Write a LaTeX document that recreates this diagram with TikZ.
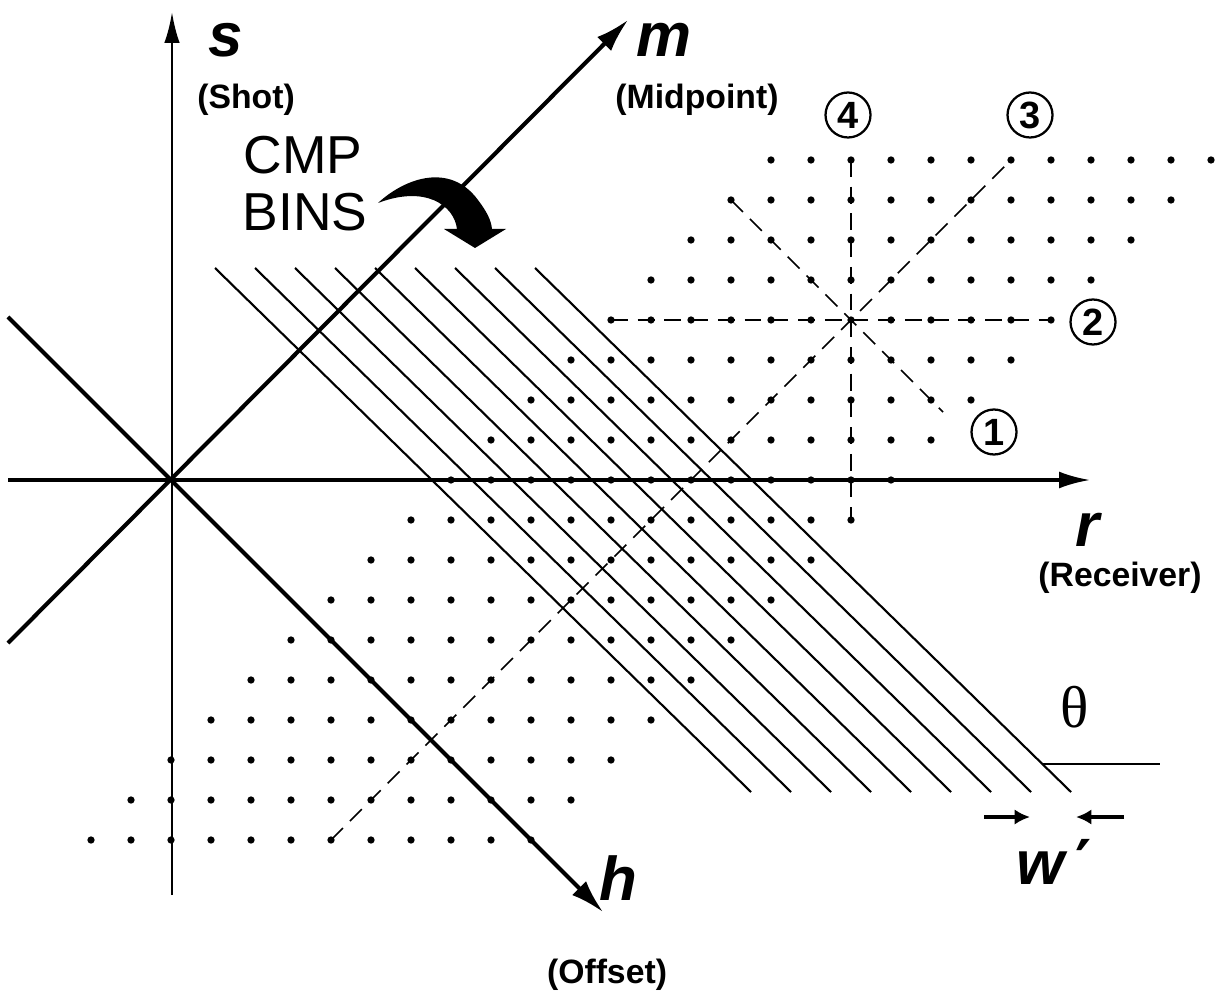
\documentclass[tikz,border=0pt]{standalone}
\usepackage{fontspec}
\setmainfont{Liberation Sans}
\newfontfamily\seriffont{Liberation Serif}
\newfontfamily\dvfont{DejaVu Sans}
\usetikzlibrary{arrows.meta}
\begin{document}
\begin{tikzpicture}[x=0.0125cm,y=-0.0125cm,
  axis/.style={line width=1.1pt},
  thickaxis/.style={line width=1.45pt},
  tipbig/.style={-{Latex[length=12pt,width=7pt]}},
  binline/.style={line width=0.75pt},
  dashline/.style={line width=0.6pt,dash pattern=on 6pt off 3.5pt},
  dot/.style={fill=black},
  lab/.style={inner sep=0pt,font=\fontsize{22}{24}\selectfont\bfseries\itshape},
  paren/.style={inner sep=0pt,font=\fontsize{12}{14}\selectfont\bfseries},
  cmp/.style={inner sep=0pt,font=\fontsize{19}{21}\selectfont},
  circnum/.style={circle,draw,line width=0.8pt,minimum size=16pt,inner sep=0pt,font=\fontsize{13.5}{14}\selectfont\bfseries},
  warrow/.style={line width=1.3pt,-{Latex[length=5.5pt,width=5.5pt]}}
]
\useasboundingbox (0,0) rectangle (1218,998);

% grid of dots
\foreach \j in {-9,...,8}{
  \foreach \k in {0,...,11}{
    \fill[dot] ({171+40*(7+\j+\k)},{480-40*\j}) circle (1.3pt);
  }
}

% CMP bins
\foreach \k in {0,...,8}{
  \coordinate (bt\k) at ({215+40*\k},268);
  \coordinate (bb\k) at ({751+40*\k},792);
  \draw[binline] (bt\k) -- (bb\k);
}
% theta reference line
\coordinate (th1) at (1043,764);
\coordinate (th2) at (1160,764);
\draw[binline] (th1) -- (th2);

% dashed lines through the star
\coordinate (d3a) at (331,840);
\coordinate (d3b) at (1011,160);
\coordinate (d2a) at (611,320);
\coordinate (d2b) at (1051,320);
\coordinate (d4a) at (851,160);
\coordinate (d4b) at (851,520);
\coordinate (d1a) at (731,200);
\coordinate (d1b) at (943,412);
\draw[dashline] (d3a) -- (d3b);
\draw[dashline] (d2a) -- (d2b);
\draw[dashline] (d4a) -- (d4b);
\draw[dashline] (d1a) -- (d1b);

% axes
\coordinate (O) at (171,480);
\coordinate (rL) at (8,480);
\coordinate (rR) at (1090,480);
\coordinate (sB) at (172,895);
\coordinate (sT) at (172,12);
\coordinate (mB) at (8,643);
\coordinate (mT) at (628,20);
\coordinate (hT) at (8,317);
\coordinate (hB) at (603,912);
\draw[axis,-{Latex[length=11pt,width=6pt]}] (rL) -- (rR);
\draw[line width=0.95pt,-{Latex[length=11pt,width=5.5pt]}] (sB) -- (sT);
\draw[thickaxis,tipbig] (mB) -- (mT);
\draw[thickaxis,tipbig] (hT) -- (hB);

% CMP BINS curved arrow
\fill (378,203) .. controls (405,178) and (450,162) .. (478,200)
  .. controls (487,212) and (491,220) .. (492,229)
  -- (506,229) -- (475,248) -- (444,229) -- (457,229)
  .. controls (454,205) and (425,185) .. (378,203) -- cycle;

% labels
\node[lab] (slab) at (226,40) {s};
\node[paren] (shot) at (246,100) {(Shot)};
\node[lab] (mlab) at (664,40) {m};
\node[paren] (mid) at (697,100) {(Midpoint)};
\node[cmp] (cmp1) at (303,155) {CMP};
\node[cmp] (cmp2) at (305,212) {BINS};
\node[lab] (rlab) at (1088,530) {r};
\node[paren] (rec) at (1120,578) {(Receiver)};
\node[lab] (hlab) at (618,878) {h};
\node[paren] (off) at (607,975) {(Offset)};
\node[inner sep=0pt,font=\fontsize{21}{22}\selectfont\seriffont] (theta) at (1075,707) {θ};
\node[inner sep=0pt,font=\fontsize{22}{24}\selectfont\bfseries\itshape] (wlab) at (1054,862) {w\kern4pt{\dvfont\bfseries\upshape ′}};

% w' arrows
\coordinate (wa1s) at (984,817);
\coordinate (wa1e) at (1030,817);
\coordinate (wa2s) at (1124,817);
\coordinate (wa2e) at (1076,817);
\draw[warrow] (wa1s) -- (wa1e);
\draw[warrow] (wa2s) -- (wa2e);

% circled numbers
\node[circnum] (c4) at (848,115) {4};
\node[circnum] (c3) at (1030,115) {3};
\node[circnum] (c2) at (1093,322) {2};
\node[circnum] (c1) at (994,432) {1};
\end{tikzpicture}
\end{document}
